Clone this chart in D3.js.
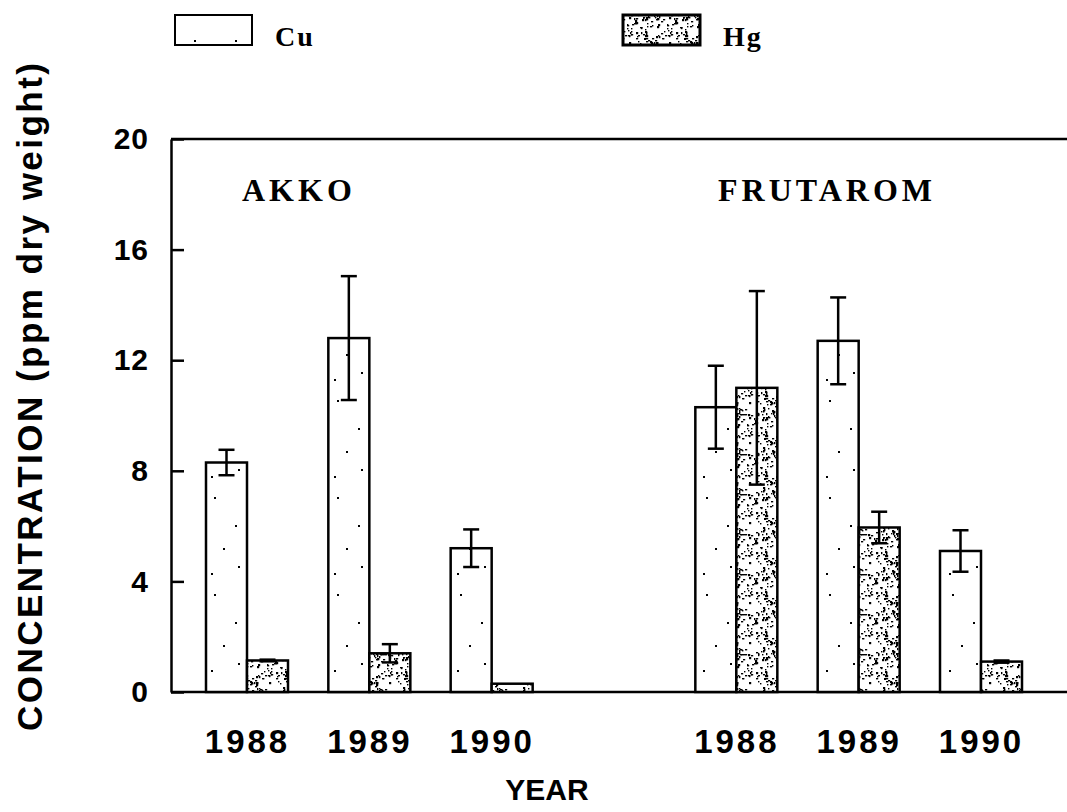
<!DOCTYPE html>
<html>
<head>
<meta charset="utf-8">
<script src="https://cdn.jsdelivr.net/npm/d3@7"></script>
<style>
  body { margin: 0; background: #fff; }
  svg { display: block; }
  .sans { font-family: "Liberation Sans", Arial, sans-serif; font-weight: bold; }
  .serif { font-family: "Liberation Serif", "Times New Roman", serif; font-weight: bold; }
</style>
</head>
<body>
<div id="chart"></div>
<script>
// values
const sites = ["AKKO", "FRUTAROM"];
const years = ["1988", "1989", "1990"];
const metals = ["Cu", "Hg"];
const cuMean = [8.3, 12.8, 5.2, 10.3, 12.7, 5.1];
const cuErr  = [0.46, 2.24, 0.68, 1.5, 1.57, 0.75];
const hgMean = [1.14, 1.4, 0.3, 11.0, 5.95, 1.1];
const hgErr  = [0.03, 0.33, 0, 3.5, 0.57, 0.04];
const yTicks = [0, 4, 8, 12, 16, 20];

const width = 1067, height = 812;
const plotLeft = 171, plotTop = 139, plotBottom = 692;
const barW = 41;

const svg = d3.select("#chart").append("svg")
    .attr("width", width)
    .attr("height", height);

const y = d3.scaleLinear().domain([0, 20]).range([plotBottom, plotTop]);
// one slot per year, an empty slot between the two sites
const x = d3.scaleLinear().domain([0, 6]).range([247, 981]);
const slot = (s, k) => s * 4 + k;

// fill patterns
const defs = svg.append("defs");
const cuPat = defs.append("pattern")
    .attr("id", "cuFill")
    .attr("patternUnits", "userSpaceOnUse")
    .attr("width", 41).attr("height", 97);
cuPat.append("rect").attr("width", 41).attr("height", 97).attr("fill", "#fff");
[[9, 12], [30, 40], [18, 63], [33, 81], [6, 88]].forEach(p => {
    cuPat.append("rect").attr("x", p[0]).attr("y", p[1])
        .attr("width", 2).attr("height", 2).attr("fill", "#000");
});

// stipple texture for Hg (fixed hash, only a texture)
const hash = k => { const s = Math.sin(k * 12.9898) * 43758.5453; return s - Math.floor(s); };
const hgPat = defs.append("pattern")
    .attr("id", "hgFill")
    .attr("patternUnits", "userSpaceOnUse")
    .attr("width", 40).attr("height", 40);
hgPat.append("rect").attr("width", 40).attr("height", 40).attr("fill", "#fff");
for (let i = 0; i < 120; i++) {
    hgPat.append("rect")
        .attr("x", Math.floor(hash(i + 1) * 39))
        .attr("y", Math.floor(hash(i + 501) * 39))
        .attr("width", hash(i + 901) > 0.5 ? 2.2 : 1.4)
        .attr("height", hash(i + 1301) > 0.6 ? 2.2 : 1.4)
        .attr("fill", "#000");
}

// frame
svg.append("line").attr("x1", plotLeft).attr("x2", width)
    .attr("y1", plotTop).attr("y2", plotTop)
    .attr("stroke", "#000").attr("stroke-width", 2.5);
svg.append("line").attr("x1", plotLeft).attr("x2", width)
    .attr("y1", plotBottom).attr("y2", plotBottom)
    .attr("stroke", "#000").attr("stroke-width", 2.5);

// y axis, ticks pointing inward
const yAxis = svg.append("g")
    .attr("transform", "translate(" + plotLeft + ",0)")
    .call(d3.axisLeft(y).tickValues(yTicks).tickSizeInner(-13).tickSizeOuter(0).tickPadding(22));
yAxis.selectAll("path, line").attr("stroke", "#000").attr("stroke-width", 2.5);
yAxis.selectAll("text")
    .attr("class", "sans")
    .style("font-size", "30px")
    .style("letter-spacing", "1px")
    .attr("fill", "#000");

// year labels
const xAxis = svg.append("g")
    .attr("transform", "translate(0," + plotBottom + ")")
    .call(d3.axisBottom(x)
        .tickValues(d3.range(6).map(i => slot(Math.floor(i / 3), i % 3)))
        .tickFormat(v => years[v % 4])
        .tickSize(0).tickPadding(38));
xAxis.select(".domain").remove();
xAxis.selectAll("text")
    .attr("class", "sans")
    .style("font-size", "33px")
    .style("letter-spacing", "3px")
    .attr("fill", "#000");

// bars
const rows = d3.range(6).map(i => ({
    slot: slot(Math.floor(i / 3), i % 3),
    cu: cuMean[i], cuE: cuErr[i],
    hg: hgMean[i], hgE: hgErr[i]
}));

function drawBar(cx, v, e, fill) {
    svg.append("rect")
        .attr("x", cx - barW / 2)
        .attr("y", y(v))
        .attr("width", barW)
        .attr("height", y(0) - y(v))
        .attr("fill", fill)
        .attr("stroke", "#000")
        .attr("stroke-width", 2.5);
    if (e > 0) {
        const g = svg.append("g").attr("stroke", "#000").attr("stroke-width", 2.5);
        g.append("line").attr("x1", cx).attr("x2", cx)
            .attr("y1", y(v + e)).attr("y2", y(v - e));
        g.append("line").attr("x1", cx - 8).attr("x2", cx + 8)
            .attr("y1", y(v + e)).attr("y2", y(v + e));
        g.append("line").attr("x1", cx - 8).attr("x2", cx + 8)
            .attr("y1", y(v - e)).attr("y2", y(v - e));
    }
}

rows.forEach(r => {
    const c = x(r.slot);
    drawBar(c - barW / 2, r.cu, r.cuE, "url(#cuFill)");
    drawBar(c + barW / 2, r.hg, r.hgE, "url(#hgFill)");
});

// site names
svg.selectAll(".site")
    .data(sites)
    .enter().append("text")
    .attr("class", "serif")
    .attr("x", (d, i) => i === 0 ? 242 : 718)
    .attr("y", 201)
    .style("font-size", "32px")
    .style("letter-spacing", "4px")
    .text(d => d);

// legend
const legX = [175, 623];
metals.forEach((m, i) => {
    svg.append("rect")
        .attr("x", legX[i]).attr("y", 15)
        .attr("width", 77).attr("height", 30)
        .attr("fill", i === 0 ? "url(#cuFill)" : "url(#hgFill)")
        .attr("stroke", "#000")
        .attr("stroke-width", i === 0 ? 2 : 3);
    svg.append("text")
        .attr("class", "serif")
        .attr("x", legX[i] + 100).attr("y", 46)
        .style("font-size", "28px")
        .style("letter-spacing", "2px")
        .text(m);
});

// axis titles
svg.append("text")
    .attr("class", "sans")
    .attr("transform", "translate(42,397) rotate(-90)")
    .attr("text-anchor", "middle")
    .attr("textLength", 668)
    .attr("lengthAdjust", "spacing")
    .style("font-size", "35px")
    .text("CONCENTRATION (ppm dry weight)");

svg.append("text")
    .attr("class", "sans")
    .attr("x", 547).attr("y", 800)
    .attr("text-anchor", "middle")
    .style("font-size", "30px")
    .text("YEAR");
</script>
</body>
</html>
